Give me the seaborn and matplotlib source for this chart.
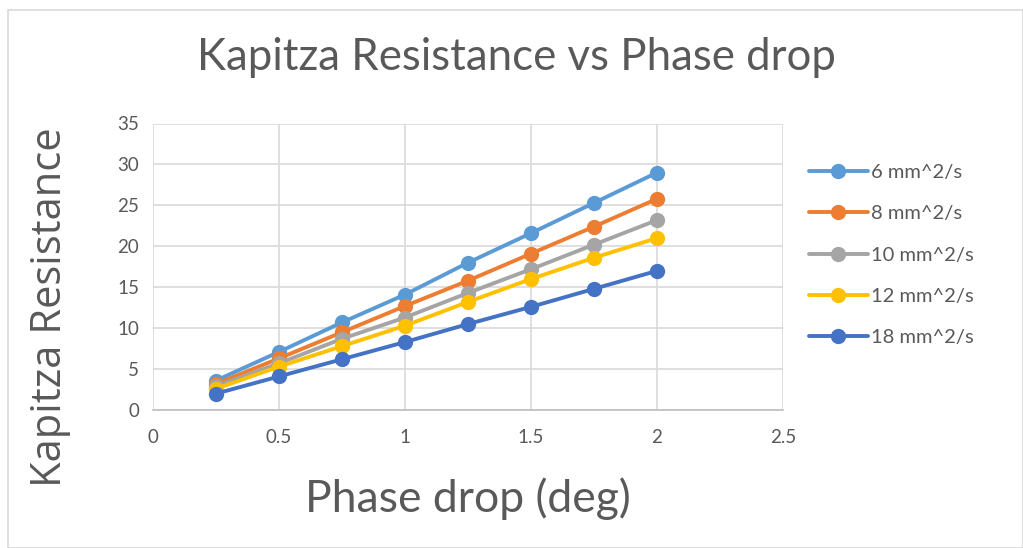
import numpy as np
import pandas as pd
import seaborn as sns
import matplotlib
matplotlib.use("Agg")
import matplotlib.pyplot as plt
from matplotlib.patches import Rectangle

# Phase drop (deg) and Kapitza resistance per viscosity
phase_drop = [0.25, 0.5, 0.75, 1.0, 1.25, 1.5, 1.75, 2.0]
series_names = ["6 mm^2/s", "8 mm^2/s", "10 mm^2/s", "12 mm^2/s", "18 mm^2/s"]
r_6 = [3.6, 7.1, 10.7, 14.1, 18.0, 21.6, 25.3, 29.0]
r_8 = [3.2, 6.3, 9.5, 12.7, 15.8, 19.1, 22.4, 25.8]
r_10 = [2.9, 5.7, 8.7, 11.3, 14.3, 17.2, 20.2, 23.2]
r_12 = [2.6, 5.3, 7.8, 10.3, 13.2, 16.0, 18.6, 21.0]
r_18 = [2.0, 4.1, 6.2, 8.3, 10.5, 12.6, 14.8, 17.0]
palette = ["#5B9BD5", "#ED7D31", "#A5A5A5", "#FFC000", "#4472C4"]

x_ticks = [0, 0.5, 1, 1.5, 2, 2.5]
y_ticks = [0, 5, 10, 15, 20, 25, 30, 35]

frames = []
for name, vals in zip(series_names, [r_6, r_8, r_10, r_12, r_18]):
    frames.append(pd.DataFrame({"phase": phase_drop, "res": vals, "series": name}))
df = pd.concat(frames, ignore_index=True)

sns.set_theme(style="white")
plt.rcParams["font.family"] = ["Lato", "DejaVu Sans"]
text_col = "#595959"
grid_col = "#D9D9D9"

fig = plt.figure(figsize=(10.23, 5.48), dpi=100)
ax = fig.add_axes([153 / 1023, 1 - 410 / 548, (783 - 153) / 1023, (410 - 123.5) / 548])

sns.lineplot(data=df, x="phase", y="res", hue="series", hue_order=series_names,
             palette=palette, marker="o", markersize=11, markeredgewidth=0,
             linewidth=2.8, ax=ax, legend=False, zorder=3)

ax.set_xlim(0, 2.5)
ax.set_ylim(0, 35)
ax.set_xticks(x_ticks)
ax.set_xticklabels([f"{t:g}" for t in x_ticks])
ax.set_yticks(y_ticks)
ax.set_yticklabels([str(t) for t in y_ticks])
ax.grid(True, color=grid_col, linewidth=1.2, zorder=0)
for side in ["top", "right", "left"]:
    ax.spines[side].set_visible(False)
ax.spines["bottom"].set_color("#BFBFBF")
ax.spines["bottom"].set_linewidth(1.2)
ax.tick_params(axis="both", length=0, labelsize=13.5, colors=text_col)
ax.tick_params(axis="x", pad=14)
ax.tick_params(axis="y", pad=10)

ax.set_xlabel("Phase drop (deg)", fontsize=32, color=text_col)
ax.xaxis.set_label_coords(0.5, -0.235)
ax.set_ylabel("Kapitza Resistance", fontsize=30, color=text_col,
              family=["Open Sans", "DejaVu Sans"])
ax.yaxis.set_label_coords(-0.13, 0.36)

fig.text(0.505, 1 - 58 / 548, "Kapitza Resistance vs Phase drop", ha="center", va="center",
         fontsize=31.5, color=text_col)

# Legend drawn with proxy handles to the right of the plot
handles = [plt.Line2D([0], [0], color=c, linewidth=2.8, marker="o", markersize=11,
                      markeredgewidth=0) for c in palette]
leg = fig.legend(handles, series_names, loc="upper left", bbox_to_anchor=(791 / 1023, 1 - 146 / 548),
                 frameon=False, fontsize=14.5, labelspacing=1.2, handlelength=2.9,
                 handletextpad=0.15, labelcolor=text_col)

# Light outer frame around the chart
fig.patches.append(Rectangle((8 / 1023, 0), 1 - 8 / 1023, 1 - 10 / 548, transform=fig.transFigure,
                             fill=False, edgecolor="#D9D9D9", linewidth=1.2))

fig.savefig("out.png", dpi=100, facecolor="white")
